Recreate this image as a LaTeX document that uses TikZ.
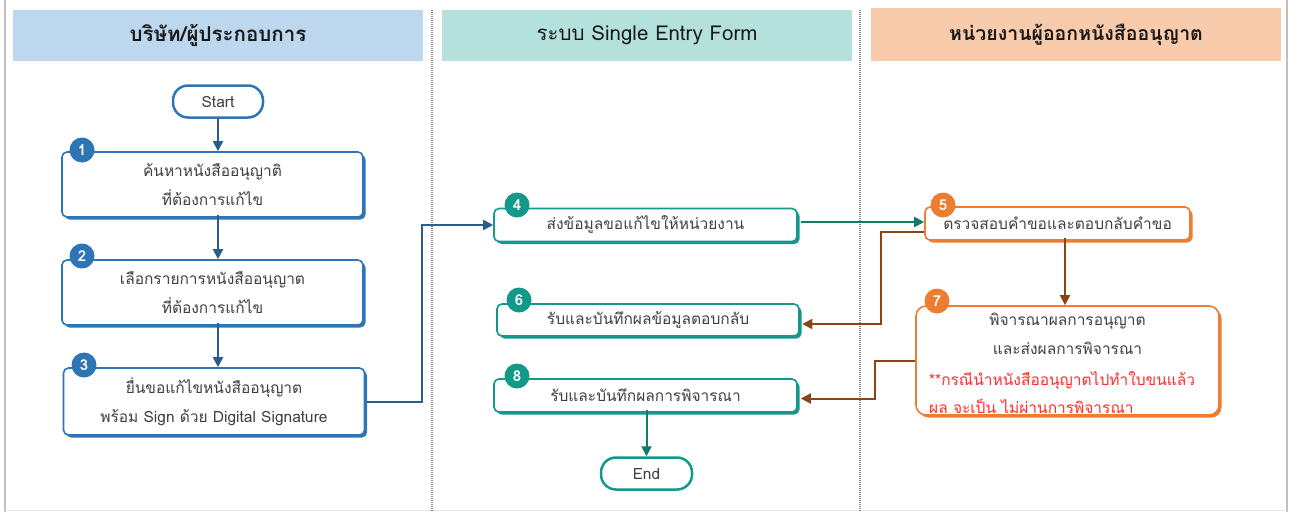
\documentclass[tikz,border=0pt]{standalone}
\usepackage{fontspec}
\setmainfont[Script=Thai]{Loma}
\usetikzlibrary{arrows.meta,shadows}
\definecolor{hdrA}{HTML}{BDD7EE}
\definecolor{hdrB}{HTML}{B4E1DC}
\definecolor{hdrC}{HTML}{F8CBAD}
\definecolor{cBlue}{HTML}{2E75B6}
\definecolor{cBlueArr}{HTML}{2B5C8E}
\definecolor{cTeal}{HTML}{13998A}
\definecolor{cTealArr}{HTML}{0F7B6C}
\definecolor{cOrange}{HTML}{ED7D31}
\definecolor{cBrown}{HTML}{8A4516}
\definecolor{cText}{HTML}{404040}
\definecolor{cRed}{HTML}{FF2D2D}
\definecolor{cFrame}{HTML}{BFBFBF}
\begin{document}
\begin{tikzpicture}[x=1pt,y=-1pt,
  hdr/.style={minimum height=51pt, inner sep=0pt, text=black!90, font=\fontsize{20.5}{24}\selectfont},
  stepbox/.style={draw=#1, fill=white, line width=1.6pt, rounded corners=5pt, inner sep=0pt,
     text=cText, align=center, font=\fontsize{15.5}{29.5}\selectfont,
     general shadow={fill=#1, shadow xshift=2.5pt, shadow yshift=-2.5pt}},
  badge/.style={circle, fill=#1, text=white, inner sep=0pt, minimum size=25pt, font=\bfseries\fontsize{15}{17}\selectfont},
  term/.style={draw=#1, fill=white, line width=2.5pt, rounded corners=15pt, minimum width=90pt, minimum height=32pt,
     inner sep=0pt, text=cText, font=\fontsize{15.5}{18}\selectfont},
  flow/.style={draw=#1, line width=2pt, -{Triangle[length=10pt,width=10pt]}},
  sep/.style={draw=black!45, line width=1.2pt, dash pattern=on 1pt off 1pt}
]
\useasboundingbox (0,0) rectangle (1292,512);
% frame
\draw[cFrame, line width=2pt] (5,0) -- (5,512);
\draw[cFrame, line width=2pt] (1287,0) -- (1287,512);
\draw[black!10, line width=1pt] (5,510.5) -- (1287,510.5);
% separators
\draw[sep] (432,10) -- (432,512);
\draw[sep] (860,10) -- (860,512);
% headers
\node[hdr, fill=hdrA, minimum width=410pt] (h1) at (218,35.5) {\bfseries บริษัท/ผู้ประกอบการ};
\node[hdr, fill=hdrB, minimum width=410pt] (h2) at (647,35.5) {ระบบ Single Entry Form};
\node[hdr, fill=hdrC, minimum width=410pt, minimum height=53pt, font=\fontsize{19.5}{23}\selectfont] (h3) at (1076,34.5) {\bfseries หน่วยงานผู้ออกหนังสืออนุญาต};
% lane 1
\node[term=cBlue] (start) at (218,101.5) {Start};
\node[stepbox=cBlue, minimum width=301pt, minimum height=65pt] (b1) at (212.5,184.5) {ค้นหาหนังสืออนุญาติ\\ที่ต้องการแก้ไข};
\node[stepbox=cBlue, minimum width=301pt, minimum height=65pt] (b2) at (212.5,292.5) {เลือกรายการหนังสืออนุญาต\\ที่ต้องการแก้ไข};
\node[stepbox=cBlue, minimum width=301pt, minimum height=67pt] (b3) at (214,401.5) {ยื่นขอแก้ไขหนังสืออนุญาต\\พร้อม Sign ด้วย Digital Signature};
\node[badge=cBlue] (n1) at (82,150) {1};
\node[badge=cBlue] (n2) at (82,256) {2};
\node[badge=cBlue] (n3) at (84,365) {3};
% lane 2
\node[stepbox=cTeal, minimum width=303pt, minimum height=33pt] (b4) at (645.5,225) {ส่งข้อมูลขอแก้ไขให้หน่วยงาน};
\node[stepbox=cTeal, minimum width=302pt, minimum height=32pt] (b6) at (648,320) {รับและบันทึกผลข้อมูลตอบกลับ};
\node[stepbox=cTeal, minimum width=303pt, minimum height=33pt] (b8) at (645.5,395.5) {รับและบันทึกผลการพิจารณา};
\node[term=cTeal, minimum width=91pt] (end) at (646.5,473.5) {End};
\node[badge=cTeal] (n4) at (517,205) {4};
\node[badge=cTeal] (n6) at (519,300) {6};
\node[badge=cTeal] (n8) at (517,376) {8};
% lane 3
\node[stepbox=cOrange, minimum width=265pt, minimum height=33pt] (b5) at (1057.5,223.5) {ตรวจสอบคำขอและตอบกลับคำขอ};
\node[stepbox=cOrange, rounded corners=10pt, minimum width=303pt, minimum height=109pt] (b7) at (1067.5,360.5) {};
\node[text=cText, align=center, font=\fontsize{15.5}{28.5}\selectfont, inner sep=0pt] (t7a) at (1067.5,334) {พิจารณาผลการอนุญาต\\และส่งผลการพิจารณา};
\node[text=cRed, align=left, anchor=west, font=\fontsize{15.5}{28.5}\selectfont, inner sep=0pt] (t7b) at (929,392.5) {**กรณีนำหนังสืออนุญาตไปทำใบขนแล้ว\\ผล จะเป็น ไม่ผ่านการพิจารณา};
\node[badge=cOrange] (n5) at (943,205) {5};
\node[badge=cOrange] (n7) at (937,301) {7};
% connectors
\draw[flow=cBlueArr] (start.south) -- (start.south |- b1.north);
\draw[flow=cBlueArr] (start.south |- b1.south) ++(0,-3) -- (start.south |- b2.north);
\draw[flow=cBlueArr] (start.south |- b2.south) ++(0,-3) -- (start.south |- b3.north);
\draw[flow=cBlueArr] ([xshift=2pt]b3.east) -| ([xshift=-71pt]b4.west) -- (b4.west);
\draw[flow=cTealArr] ([xshift=3pt,yshift=3pt]b4.east) -- ([yshift=1.5pt]b5.west);
\draw[flow=cBrown] ([yshift=-8pt]b5.west) -| ([xshift=81pt,yshift=-4pt]b6.east) -- ([xshift=2.5pt,yshift=-4pt]b6.east);
\draw[flow=cBrown] ([xshift=-2.5pt]b5.south -| b7.north) ++(0,-2.5) -- ([xshift=-2.5pt]b7.north);
\draw[flow=cBrown] (b7.west) -| ([xshift=77pt,yshift=-3pt]b8.east) -- ([xshift=3pt,yshift=-3pt]b8.east);
\draw[flow=cTealArr] (end.north |- b8.south) ++(0,-2.5) -- (end.north);
\end{tikzpicture}
\end{document}
